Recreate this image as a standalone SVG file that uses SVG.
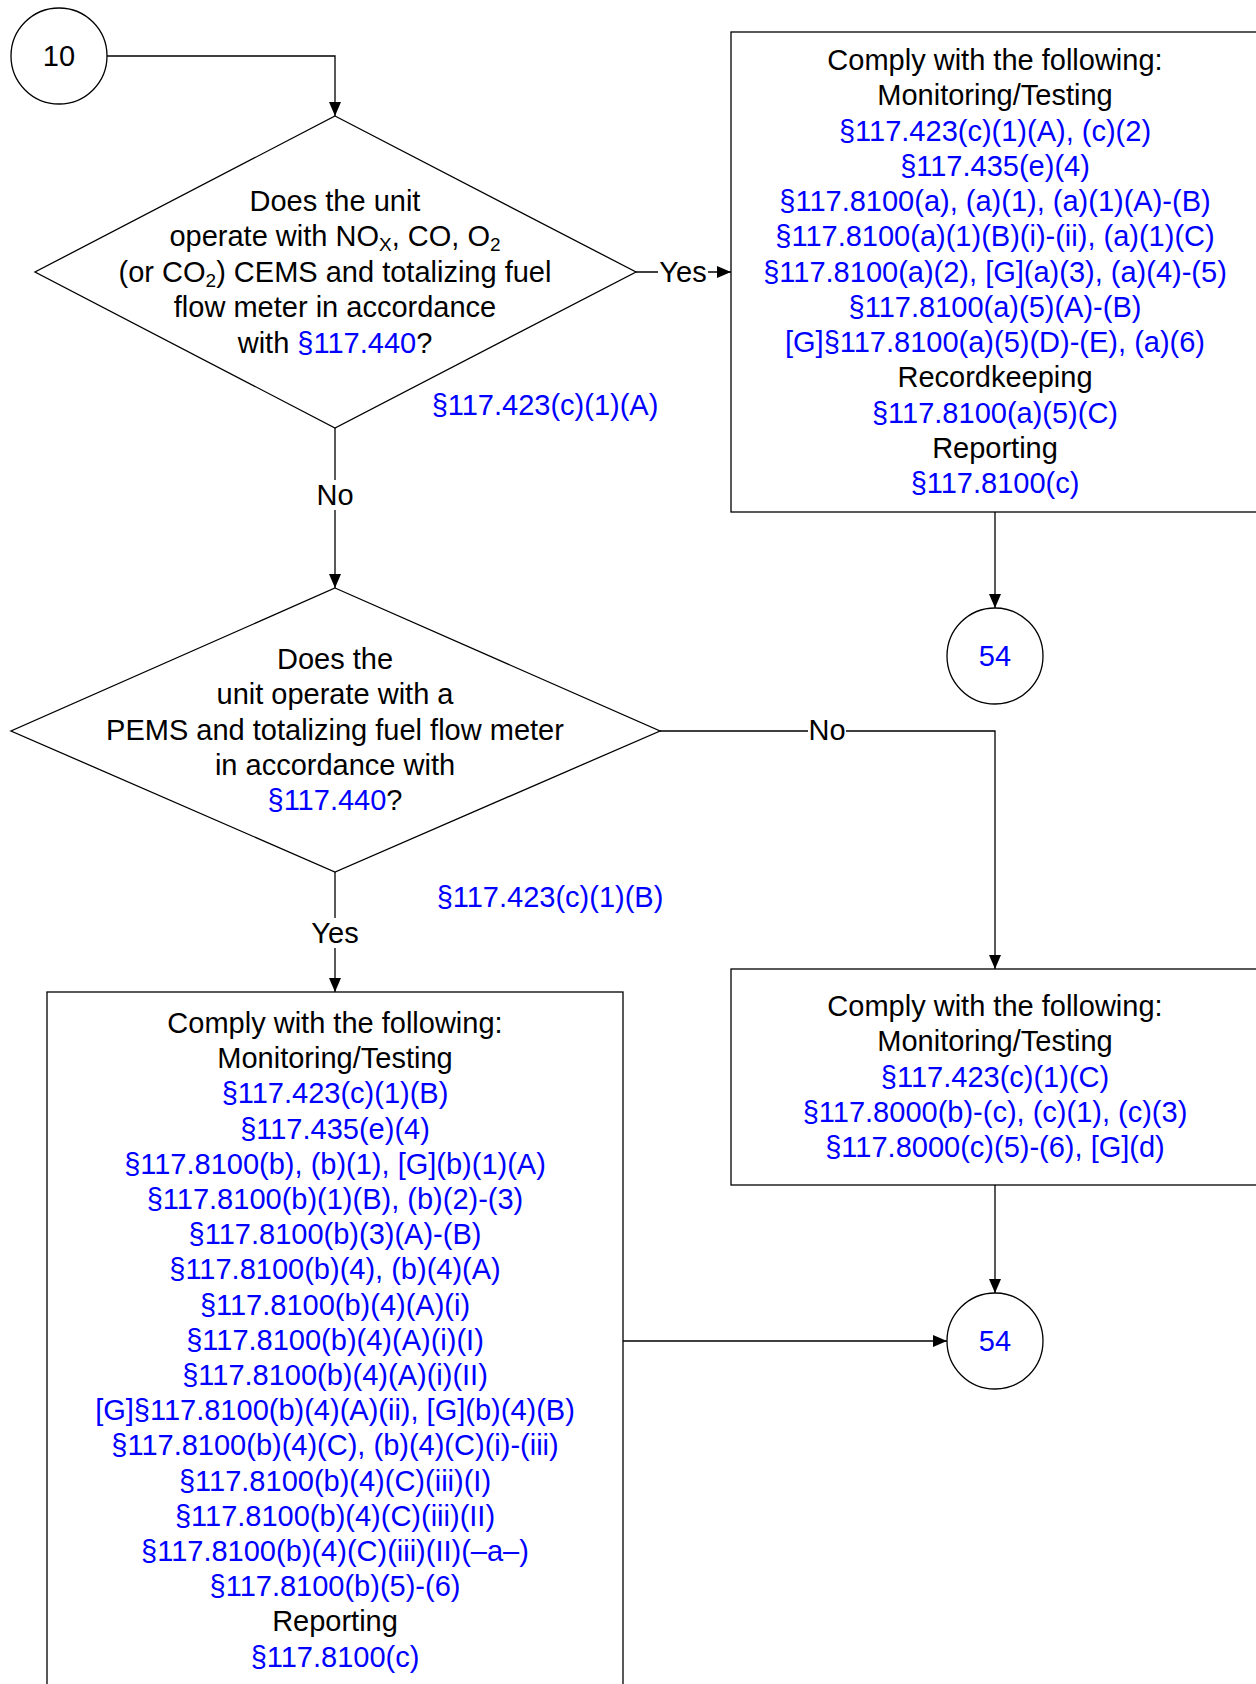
<svg xmlns="http://www.w3.org/2000/svg" width="1256" height="1684" viewBox="0 0 1256 1684">
<style>
.shape{fill:#ffffff;stroke:#000000;stroke-width:1.3}
.t{font-family:"Liberation Sans",Arial,sans-serif;font-size:29px;fill:#000000;text-anchor:middle}
.b{fill:#0000ff}
.conn{fill:none;stroke:#000000;stroke-width:1.3}
.lblbg{fill:#ffffff;stroke:none}
</style>
<defs>
<marker id="arr" markerUnits="userSpaceOnUse" markerWidth="14" markerHeight="12" refX="14" refY="6" orient="auto">
<path d="M0,0 L14,6 L0,12 z" fill="#000000"/>
</marker>
</defs>
<rect x="0" y="0" width="1256" height="1684" fill="#ffffff"/>

<g id="connectors">
<path class="conn" d="M107,56 H335 V116" marker-end="url(#arr)"/>
<path class="conn" d="M636,272 H731" marker-end="url(#arr)"/>
<path class="conn" d="M335,428 V588" marker-end="url(#arr)"/>
<path class="conn" d="M660,731 H995 V969" marker-end="url(#arr)"/>
<path class="conn" d="M995,512 V608" marker-end="url(#arr)"/>
<path class="conn" d="M335,872 V992" marker-end="url(#arr)"/>
<path class="conn" d="M995,1185 V1293" marker-end="url(#arr)"/>
<path class="conn" d="M623,1341 H947" marker-end="url(#arr)"/>
<rect class="lblbg" x="658" y="258" width="50" height="28"/>
<text class="t" x="683" y="282">Yes</text>
<rect class="lblbg" x="315" y="480" width="40" height="30"/>
<text class="t" x="335" y="505">No</text>
<rect class="lblbg" x="808" y="716" width="38" height="30"/>
<text class="t" x="827" y="740">No</text>
<rect class="lblbg" x="308" y="918" width="54" height="30"/>
<text class="t" x="335" y="943">Yes</text>
<text class="t b" x="545" y="415">§117.423(c)(1)(A)</text>
<text class="t b" x="550" y="907">§117.423(c)(1)(B)</text>
</g>

<g id="start10">
<circle class="shape" cx="59" cy="56" r="48"/>
<text class="t" x="59" y="66">10</text>
</g>

<g id="decision1">
<polygon class="shape" points="335,116 636,272 335,428 35,272"/>
<text class="t" x="335" y="211">Does the unit</text>
<text class="t" x="335" y="246">operate with NO<tspan font-size="19" dy="5">X</tspan><tspan dy="-5">, CO, O</tspan><tspan font-size="19" dy="5">2</tspan></text>
<text class="t" x="335" y="282">(or CO<tspan font-size="19" dy="5">2</tspan><tspan dy="-5">) CEMS and totalizing fuel</tspan></text>
<text class="t" x="335" y="317">flow meter in accordance</text>
<text class="t" x="335" y="353">with <tspan class="b">§117.440</tspan>?</text>
</g>

<g id="box1">
<rect class="shape" x="731" y="32" width="528" height="480"/>
<text class="t" x="995" y="70">Comply with the following:</text>
<text class="t" x="995" y="105">Monitoring/Testing</text>
<text class="t b" x="995" y="141">§117.423(c)(1)(A), (c)(2)</text>
<text class="t b" x="995" y="176">§117.435(e)(4)</text>
<text class="t b" x="995" y="211">§117.8100(a), (a)(1), (a)(1)(A)-(B)</text>
<text class="t b" x="995" y="246">§117.8100(a)(1)(B)(i)-(ii), (a)(1)(C)</text>
<text class="t b" x="995" y="282">§117.8100(a)(2), [G](a)(3), (a)(4)-(5)</text>
<text class="t b" x="995" y="317">§117.8100(a)(5)(A)-(B)</text>
<text class="t b" x="995" y="352">[G]§117.8100(a)(5)(D)-(E), (a)(6)</text>
<text class="t" x="995" y="387">Recordkeeping</text>
<text class="t b" x="995" y="423">§117.8100(a)(5)(C)</text>
<text class="t" x="995" y="458">Reporting</text>
<text class="t b" x="995" y="493">§117.8100(c)</text>
</g>

<g id="end54a">
<circle class="shape" cx="995" cy="656" r="48"/>
<text class="t b" x="995" y="666">54</text>
</g>

<g id="decision2">
<polygon class="shape" points="335,588 660,731 335,872 11,731"/>
<text class="t" x="335" y="669">Does the</text>
<text class="t" x="335" y="704">unit operate with a</text>
<text class="t" x="335" y="740">PEMS and totalizing fuel flow meter</text>
<text class="t" x="335" y="775">in accordance with</text>
<text class="t" x="335" y="810"><tspan class="b">§117.440</tspan>?</text>
</g>

<g id="box2">
<rect class="shape" x="731" y="969" width="528" height="216"/>
<text class="t" x="995" y="1016">Comply with the following:</text>
<text class="t" x="995" y="1051">Monitoring/Testing</text>
<text class="t b" x="995" y="1087">§117.423(c)(1)(C)</text>
<text class="t b" x="995" y="1122">§117.8000(b)-(c), (c)(1), (c)(3)</text>
<text class="t b" x="995" y="1157">§117.8000(c)(5)-(6), [G](d)</text>
</g>

<g id="end54b">
<circle class="shape" cx="995" cy="1341" r="48"/>
<text class="t b" x="995" y="1351">54</text>
</g>

<g id="box3">
<rect class="shape" x="47" y="992" width="576" height="760"/>
<text class="t" x="335" y="1033">Comply with the following:</text>
<text class="t" x="335" y="1068">Monitoring/Testing</text>
<text class="t b" x="335" y="1103">§117.423(c)(1)(B)</text>
<text class="t b" x="335" y="1139">§117.435(e)(4)</text>
<text class="t b" x="335" y="1174">§117.8100(b), (b)(1), [G](b)(1)(A)</text>
<text class="t b" x="335" y="1209">§117.8100(b)(1)(B), (b)(2)-(3)</text>
<text class="t b" x="335" y="1244">§117.8100(b)(3)(A)-(B)</text>
<text class="t b" x="335" y="1279">§117.8100(b)(4), (b)(4)(A)</text>
<text class="t b" x="335" y="1315">§117.8100(b)(4)(A)(i)</text>
<text class="t b" x="335" y="1350">§117.8100(b)(4)(A)(i)(I)</text>
<text class="t b" x="335" y="1385">§117.8100(b)(4)(A)(i)(II)</text>
<text class="t b" x="335" y="1420">[G]§117.8100(b)(4)(A)(ii), [G](b)(4)(B)</text>
<text class="t b" x="335" y="1455">§117.8100(b)(4)(C), (b)(4)(C)(i)-(iii)</text>
<text class="t b" x="335" y="1491">§117.8100(b)(4)(C)(iii)(I)</text>
<text class="t b" x="335" y="1526">§117.8100(b)(4)(C)(iii)(II)</text>
<text class="t b" x="335" y="1561">§117.8100(b)(4)(C)(iii)(II)(–a–)</text>
<text class="t b" x="335" y="1596">§117.8100(b)(5)-(6)</text>
<text class="t" x="335" y="1631">Reporting</text>
<text class="t b" x="335" y="1667">§117.8100(c)</text>
</g>
</svg>
